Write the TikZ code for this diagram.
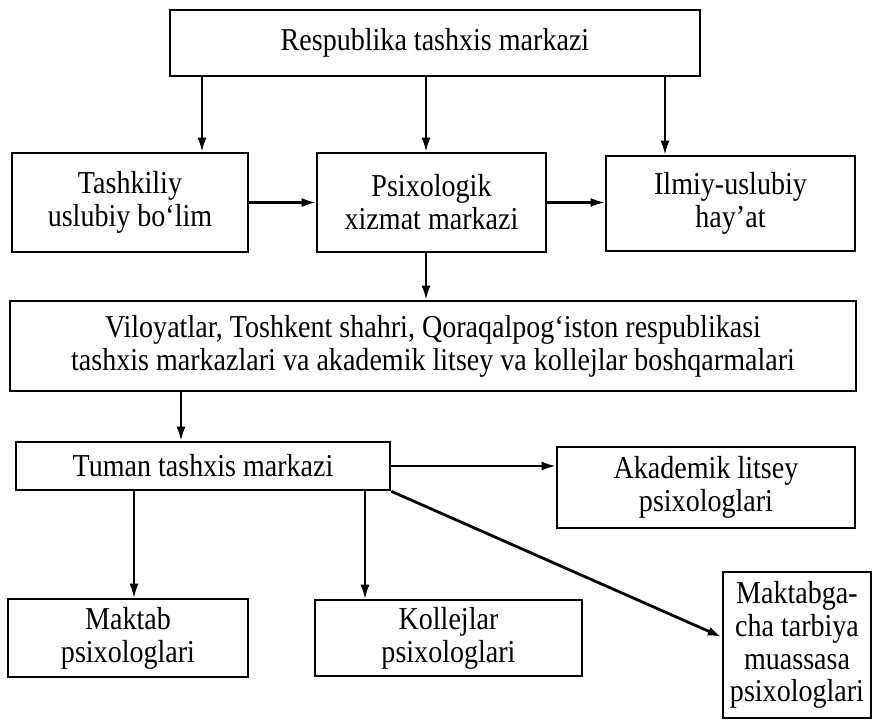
\documentclass[tikz,border=0pt]{standalone}
\usepackage{fontspec}
\setmainfont{Liberation Serif}[FakeStretch=0.88]
\usetikzlibrary{arrows.meta}
\begin{document}
\begin{tikzpicture}[x=1bp, y=-1bp,
        box/.style={draw, line width=2.6bp, align=center, inner sep=2bp, font=\fontsize{32}{33}\selectfont},
        arr/.style={-{Latex[length=14bp,width=9bp]}, line width=2.2bp}]
        \useasboundingbox (0,0) rectangle (873,720);

        % Top level
        \node[box, minimum width=530bp, minimum height=66bp] (resp) at (435,43) {Respublika tashxis markazi};

        % Second row
        \node[box, minimum width=236bp, minimum height=99bp] (tash) at (130,202.5) {Tashkiliy\\uslubiy bo‘lim};
        \node[box, minimum width=229bp, minimum height=99bp] (psix) at (431.5,202.5) {Psixologik\\xizmat markazi};
        \node[box, minimum width=249bp, minimum height=95bp] (ilmiy) at (730.5,203.5) {Ilmiy-uslubiy\\hay’at};

        % Regional level
        \node[box, minimum width=846bp, minimum height=90bp] (vil) at (433,346) {Viloyatlar, Toshkent shahri, Qoraqalpog‘iston respublikasi\\tashxis markazlari va akademik litsey va kollejlar boshqarmalari};

        % District level
        \node[box, minimum width=374bp, minimum height=48bp] (tuman) at (203,466) {Tuman tashxis markazi};
        \node[box, minimum width=298bp, minimum height=81bp] (akad) at (706,487.5) {Akademik litsey\\psixologlari};

        % Bottom row
        \node[box, minimum width=240bp, minimum height=78bp] (maktab) at (128,638) {Maktab\\psixologlari};
        \node[box, minimum width=267bp, minimum height=76bp] (kollej) at (448.5,638) {Kollejlar\\psixologlari};
        \node[box, minimum width=148bp, minimum height=146bp, inner sep=1bp] (maktabga) at (797,645) {Maktabga-\\cha tarbiya\\muassasa\\psixologlari};

        % Arrow columns
        \coordinate (c1) at (202,0);
        \coordinate (c2) at (426,0);
        \coordinate (c3) at (665,0);
        \coordinate (c4) at (181,0);
        \coordinate (c5) at (134,0);
        \coordinate (c6) at (365,0);

        % Connectors
        \draw[arr] (resp.south -| c1) -- (tash.north -| c1);
        \draw[arr] (resp.south -| c2) -- (psix.north -| c2);
        \draw[arr] (resp.south -| c3) -- (ilmiy.north -| c3);
        \draw[arr] (tash.east) -- (psix.west);
        \draw[arr] (psix.east) -- (ilmiy.west |- psix.east);
        \draw[arr] (psix.south -| c2) -- (vil.north -| c2);
        \draw[arr] (vil.south -| c4) -- (tuman.north -| c4);
        \draw[arr] (tuman.east) -- (akad.west |- tuman.east);
        \draw[arr, line width=1.5bp] (tuman.south -| c5) -- (maktab.north -| c5);
        \draw[arr, line width=1.5bp] (tuman.south -| c6) -- (kollej.north -| c6);
        \draw[arr, line width=2.8bp] (tuman.south east) -- ([yshift=8bp]maktabga.west);
    \end{tikzpicture}
\end{document}
